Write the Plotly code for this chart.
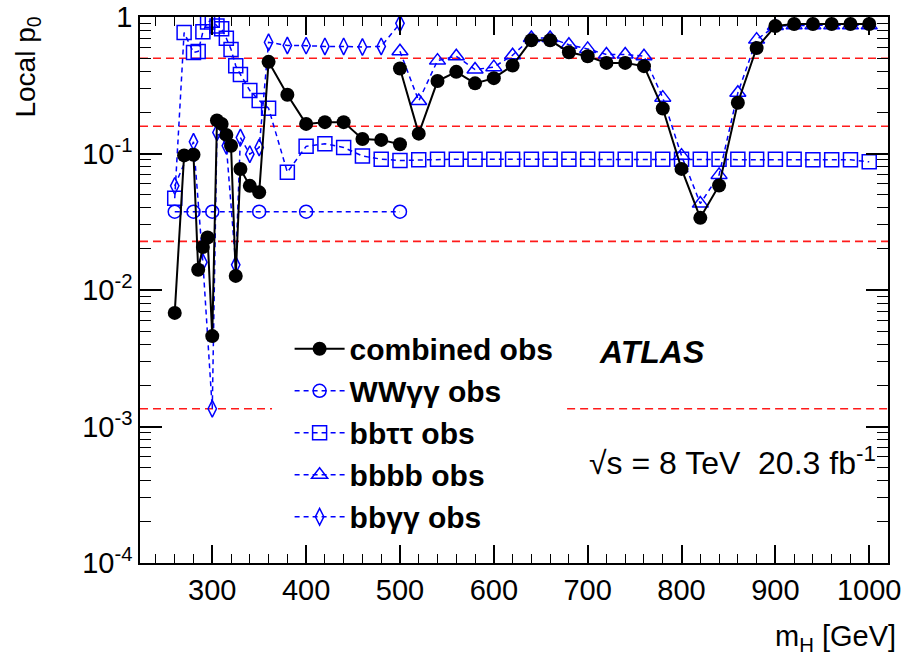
import plotly.graph_objects as go

# ---------------- data ----------------
mass_comb_low = [260, 270, 280, 285, 290, 295, 300, 305, 310, 315, 320, 325, 330, 340, 350,
                 360, 380, 400, 420, 440, 460, 480, 500]
p_comb_low = [0.0068, 0.097, 0.098, 0.0141, 0.0207, 0.0243, 0.0046, 0.175, 0.165, 0.137, 0.114,
              0.0127, 0.077, 0.058, 0.052, 0.47, 0.27, 0.165, 0.17, 0.17, 0.128, 0.126, 0.117]

mass_high = [500, 520, 540, 560, 580, 600, 620, 640, 660, 680, 700, 720, 740, 760, 780, 800,
             820, 840, 860, 880, 900, 920, 940, 960, 980, 1000]
p_comb_high = [0.42, 0.14, 0.34, 0.397, 0.327, 0.357, 0.442, 0.676, 0.676, 0.553, 0.517, 0.462,
               0.462, 0.437, 0.214, 0.0772, 0.0338, 0.0584, 0.236, 0.594, 0.86, 0.89, 0.89,
               0.89, 0.89, 0.89]

p_bbbb = [0.562, 0.243, 0.48, 0.517, 0.413, 0.43, 0.526, 0.703, 0.703, 0.628, 0.585, 0.532,
          0.532, 0.517, 0.257, 0.0966, 0.043, 0.0698, 0.279, 0.684, 0.86, 0.87, 0.87, 0.87,
          0.87, 0.87]

mass_bbtautau = [260, 270, 280, 285, 290, 295, 300, 305, 310, 315, 320, 325, 330, 340, 350, 360,
                 380, 400, 420, 440, 460, 480, 500, 520, 540, 560, 580, 600, 620, 640, 660, 680,
                 700, 720, 740, 760, 780, 800, 820, 840, 860, 880, 900, 920, 940, 960, 980, 1000]
p_bbtautau = [0.047, 0.77, 0.55, 0.56, 0.78, 0.92, 0.95, 0.86, 0.82, 0.70, 0.58, 0.44, 0.38,
              0.29, 0.245, 0.215, 0.073, 0.113, 0.118, 0.111, 0.096, 0.091, 0.089, 0.090,
              0.091, 0.091, 0.091, 0.091, 0.091, 0.091, 0.091, 0.091, 0.091, 0.091, 0.091,
              0.091, 0.091, 0.091, 0.091, 0.091, 0.091, 0.091, 0.091, 0.091, 0.090, 0.090,
              0.090, 0.087]

mass_wwgg = [260, 280, 300, 350, 400, 500]
p_wwgg = [0.0375, 0.0375, 0.0375, 0.0375, 0.0375, 0.0375]

mass_bbgg = [260, 280, 290, 300, 305, 315, 325, 330, 340, 350, 360, 380, 400, 420, 440, 460,
             480, 500]
p_bbgg = [0.058, 0.122, 0.016, 0.00135, 0.143, 0.114, 0.0153, 0.131, 0.099, 0.111, 0.654, 0.62,
          0.618, 0.61, 0.61, 0.604, 0.61, 0.9]

sigma_levels = [0.5, 0.1587, 0.02275, 0.00135]

y_tickvals = [1e-4, 1e-3, 1e-2, 1e-1, 1]
y_ticktext = ["10<sup>-4</sup>", "10<sup>-3</sup>", "10<sup>-2</sup>", "10<sup>-1</sup>", "1"]
x_tickvals = [300, 400, 500, 600, 700, 800, 900, 1000]

# ---------------- figure ----------------
BLUE = "#0000ff"
FONT = "Liberation Sans, Arial, Helvetica, sans-serif"
fig = go.Figure()

dash_blue = dict(color=BLUE, width=1.5, dash="5px,4px")

fig.add_trace(go.Scatter(x=mass_wwgg, y=p_wwgg, mode="lines+markers", name="WWγγ obs",
                         line=dash_blue, legendrank=2,
                         marker=dict(symbol="circle-open", size=13, color=BLUE,
                                     line=dict(width=1.5, color=BLUE))))
fig.add_trace(go.Scatter(x=mass_bbtautau, y=p_bbtautau, mode="lines+markers", name="bbττ obs",
                         line=dash_blue, legendrank=3,
                         marker=dict(symbol="square-open", size=14, color=BLUE,
                                     line=dict(width=1.5, color=BLUE))))
fig.add_trace(go.Scatter(x=mass_high, y=p_bbbb, mode="lines+markers", name="bbbb obs",
                         line=dash_blue, legendrank=4,
                         marker=dict(symbol="triangle-up-open", size=14, color=BLUE,
                                     line=dict(width=1.5, color=BLUE))))
fig.add_trace(go.Scatter(x=mass_bbgg, y=p_bbgg, mode="lines+markers", name="bbγγ obs",
                         line=dash_blue, legendrank=5,
                         marker=dict(symbol="diamond-tall-open", size=12, color=BLUE,
                                     line=dict(width=1.5, color=BLUE))))

comb_x = mass_comb_low + [None] + mass_high
comb_y = p_comb_low + [None] + p_comb_high
fig.add_trace(go.Scatter(x=comb_x, y=comb_y, mode="lines+markers", name="combined obs",
                         line=dict(color="black", width=2), legendrank=1,
                         connectgaps=False,
                         marker=dict(symbol="circle", size=14, color="black")))

# significance reference lines
for i, p in enumerate(sigma_levels):
    if i == len(sigma_levels) - 1:
        segs = [(0, 0.1765), (0.571, 1)]
    else:
        segs = [(0, 1)]
    for x0, x1 in segs:
        fig.add_shape(type="line", xref="paper", yref="y", x0=x0, x1=x1, y0=p, y1=p,
                      line=dict(color="#ff1a1a", width=1.6, dash="8px,5px"), layer="below")

axis_common = dict(showline=True, linecolor="black", linewidth=1.5, mirror="ticks",
                   ticks="inside", tickcolor="black", showgrid=False, zeroline=False,
                   ticklabeloverflow="allow", automargin=False,
                   tickfont=dict(family=FONT, size=29, color="black"))

y_minor = [k * 10 ** d for d in range(-4, 0) for k in range(2, 10)]

fig.update_xaxes(range=[223, 1020], tickvals=x_tickvals, ticklen=18, tickwidth=1.5,
                 minor=dict(dtick=20, tick0=0, ticks="inside", ticklen=9, tickwidth=1.2,
                            tickcolor="black", showgrid=False),
                 **axis_common)
fig.update_yaxes(type="log", range=[-4, 0.0008], tickvals=y_tickvals, ticktext=y_ticktext,
                 ticklen=22, tickwidth=1.5,
                 minor=dict(tickvals=y_minor, ticks="inside", ticklen=11, tickwidth=1.2,
                            tickcolor="black", showgrid=False),
                 **axis_common)

fig.update_layout(
    width=904, height=657,
    margin=dict(l=140, r=16, t=17, b=94, autoexpand=False),
    paper_bgcolor="white", plot_bgcolor="white",
    showlegend=True,
    legend=dict(x=0.2, y=0.44, xanchor="left", yanchor="top",
                bgcolor="rgba(255,255,255,0)", borderwidth=0,
                font=dict(family=FONT, size=30, color="black", weight="bold"),
                itemwidth=50, tracegroupgap=0),
    annotations=[
        dict(text="ATLAS", xref="paper", yref="paper", x=0.611, y=0.387, xanchor="left",
             yanchor="middle", showarrow=False,
             font=dict(family=FONT, size=32, color="black", weight="bold", style="italic")),
        dict(text="√s = 8 TeV  20.3 fb<sup>-1</sup>", xref="paper", yref="paper", x=0.598,
             y=0.187, xanchor="left", yanchor="middle", showarrow=False,
             font=dict(family=FONT, size=32, color="black")),
        dict(text="Local p<sub>0</sub>", xref="paper", yref="paper", x=-0.15, y=1.005,
             xanchor="center", yanchor="top", textangle=-90, showarrow=False,
             font=dict(family=FONT, size=28, color="black")),
        dict(text="m<sub>H</sub> [GeV]", xref="paper", yref="paper", x=1.014, y=-0.1,
             xanchor="right", yanchor="top", showarrow=False,
             font=dict(family=FONT, size=29, color="black")),
    ],
)

fig.write_html("out.html")
